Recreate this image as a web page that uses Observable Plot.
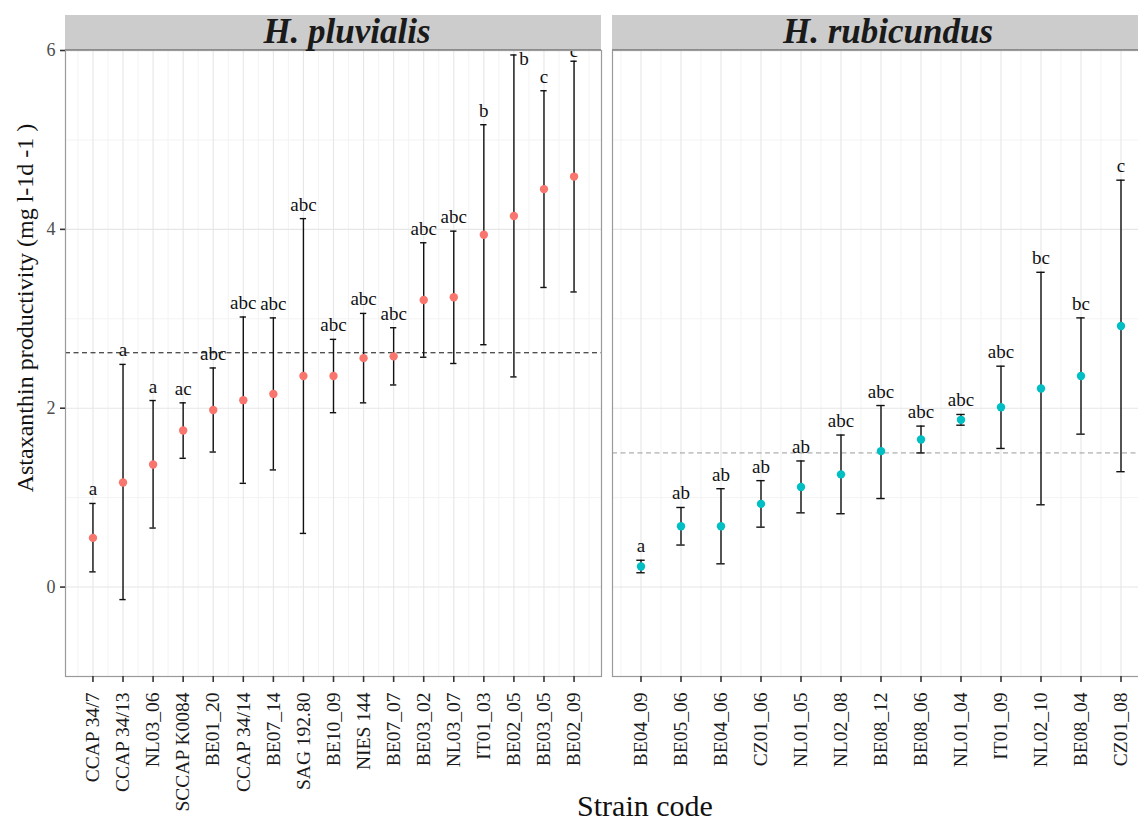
<!DOCTYPE html>
<html>
<head>
<meta charset="utf-8">
<script src="https://cdn.jsdelivr.net/npm/d3@7"></script>
<script src="https://cdn.jsdelivr.net/npm/@observablehq/plot@0.6"></script>
<style>
  body { margin: 0; background: #fff; }
  #wrap { position: relative; width: 1138px; height: 823px; overflow: hidden; background: #fff;
          font-family: "Liberation Serif", "Times New Roman", serif; }
  .panel { position: absolute; top: 0; }
  .strip { position: absolute; top: 15px; height: 35px; background: #CCCCCC; box-sizing: border-box;
           border-bottom: 1px solid #8c8c8c; }
  .strip span { position: absolute; top: 50%; transform: translate(-50%, -52%); font-weight: bold;
                font-style: italic; font-size: 35px; color: #1a1a1a; white-space: nowrap; line-height: 1; }
  .ylab { position: absolute; left: 25px; top: 308px; transform: translate(-50%, -50%) rotate(-90deg);
          font-size: 24px; white-space: nowrap; color: #111; line-height: 1; }
  .xlab { position: absolute; left: 645px; top: 806px; transform: translate(-50%, -50%);
          font-size: 30px; white-space: nowrap; color: #111; line-height: 1; }
</style>
</head>
<body>
<div id="wrap"></div>
<script>
// ---------- data ----------
const pluvialisStrains = ["CCAP 34/7", "CCAP 34/13", "NL03_06", "SCCAP K0084", "BE01_20", "CCAP 34/14",
  "BE07_14", "SAG 192.80", "BE10_09", "NIES 144", "BE07_07", "BE03_02", "NL03_07", "IT01_03",
  "BE02_05", "BE03_05", "BE02_09"];
const pluvialisMean = [0.55, 1.17, 1.37, 1.75, 1.98, 2.09, 2.16, 2.36, 2.36, 2.56, 2.58, 3.21, 3.24, 3.94, 4.15, 4.45, 4.59];
const pluvialisLow  = [0.17, -0.14, 0.66, 1.44, 1.51, 1.16, 1.31, 0.60, 1.95, 2.06, 2.26, 2.57, 2.50, 2.71, 2.35, 3.35, 3.30];
const pluvialisHigh = [0.935, 2.49, 2.086, 2.06, 2.45, 3.02, 3.01, 4.12, 2.77, 3.06, 2.90, 3.85, 3.98, 5.17, 5.95, 5.55, 5.88];
const pluvialisLetters = ["a", "a", "a", "ac", "abc", "abc", "abc", "abc", "abc", "abc", "abc", "abc", "abc", "b", "b", "c", "c"];
const pluvialisMeanLine = 2.62;

const rubicundusStrains = ["BE04_09", "BE05_06", "BE04_06", "CZ01_06", "NL01_05", "NL02_08", "BE08_12",
  "BE08_06", "NL01_04", "IT01_09", "NL02_10", "BE08_04", "CZ01_08"];
const rubicundusMean = [0.23, 0.68, 0.68, 0.93, 1.12, 1.26, 1.52, 1.65, 1.87, 2.01, 2.22, 2.36, 2.92];
const rubicundusLow  = [0.16, 0.47, 0.26, 0.67, 0.83, 0.82, 0.99, 1.50, 1.81, 1.55, 0.92, 1.71, 1.29];
const rubicundusHigh = [0.30, 0.89, 1.10, 1.19, 1.41, 1.70, 2.03, 1.80, 1.93, 2.47, 3.52, 3.01, 4.55];
const rubicundusLetters = ["a", "ab", "ab", "ab", "ab", "abc", "abc", "abc", "abc", "abc", "bc", "bc", "c"];
const rubicundusMeanLine = 1.50;

const yMajorTicks = [0, 2, 4, 6];
const yMinorTicks = [-1, 1, 3, 5];
const yDomain = [-1, 6];

const facetTitles = ["H. pluvialis", "H. rubicundus"];
const yLabel = "Astaxanthin productivity (mg l-1d -1 )";
const xLabel = "Strain code";

// ---------- drawing ----------
const FONT = "Liberation Serif, Times New Roman, serif";

function panel(o) {
  const n = o.strains.length;
  const data = o.strains.map((s, i) => ({
    i, strain: s, mean: o.mean[i], low: o.low[i], high: o.high[i], letter: o.letters[i]
  }));
  const cap = 0.105;
  const normal = data.filter(d => !(d.strain in o.labelShift));
  const shifted = data.filter(d => d.strain in o.labelShift);
  const marks = [
    Plot.gridY(yMinorTicks, {stroke: "#F3F3F3", strokeOpacity: 1, strokeWidth: 1}),
    Plot.gridX(d3.range(-1, n).map(i => i + 0.5), {stroke: "#F3F3F3", strokeOpacity: 1, strokeWidth: 1}),
    Plot.gridY(yMajorTicks, {stroke: "#E6E6E6", strokeOpacity: 1, strokeWidth: 1.1}),
    Plot.gridX(d3.range(n), {stroke: "#E6E6E6", strokeOpacity: 1, strokeWidth: 1.1}),
    Plot.ruleY([o.ref], {stroke: o.refColor, strokeWidth: 1, strokeDasharray: "5,3.5"}),
    Plot.ruleX(data, {x: "i", y1: "low", y2: "high", stroke: "#111", strokeWidth: 1.4}),
    Plot.ruleY(data, {y: "low", x1: d => d.i - cap, x2: d => d.i + cap, stroke: "#111", strokeWidth: 1.4}),
    Plot.ruleY(data, {y: "high", x1: d => d.i - cap, x2: d => d.i + cap, stroke: "#111", strokeWidth: 1.4}),
    Plot.dot(data, {x: "i", y: "mean", r: 4.2, fill: o.color, stroke: "none"}),
    Plot.text(normal, {x: "i", y: "high", text: "letter", dy: -8, lineAnchor: "bottom",
      fontSize: 19, fill: "#111", fontFamily: FONT}),
    ...shifted.map(d => Plot.text([d], {x: "i", y: "high", text: "letter",
      dx: o.labelShift[d.strain][0], dy: o.labelShift[d.strain][1], lineAnchor: "bottom",
      fontSize: 19, fill: "#111", fontFamily: FONT})),
    Plot.frame({stroke: "#9a9a9a", strokeWidth: 1.2}),
    Plot.axisX(d3.range(n), {tickFormat: i => o.strains[i], tickRotate: -90, tickSize: 6, tickPadding: 10,
      fontSize: 19.5, color: "#1a1a1a", stroke: "#333", strokeWidth: 1.6, label: null, fontFamily: FONT})
  ];
  if (o.showY) {
    marks.push(Plot.axisY(yMajorTicks, {tickFormat: d3.format("d"), tickSize: 5, tickPadding: 5, fontSize: 18,
      color: "#4D4D4D", stroke: "#333", strokeWidth: 1.6, label: null, fontFamily: FONT}));
  }
  return Plot.plot({
    width: o.width, height: 800,
    marginTop: 50, marginBottom: 124, marginLeft: o.marginLeft, marginRight: o.marginRight,
    style: {fontFamily: FONT, background: "transparent", overflow: "visible"},
    x: {domain: [-o.pad, n - 1 + o.pad], axis: null},
    y: {domain: yDomain, axis: null},
    marks
  });
}

const wrap = document.getElementById("wrap");

const left = panel({
  strains: pluvialisStrains, mean: pluvialisMean, low: pluvialisLow, high: pluvialisHigh,
  letters: pluvialisLetters, ref: pluvialisMeanLine, refColor: "#111", color: "#F8766D",
  width: 606, marginLeft: 65, marginRight: 5, pad: 0.913, showY: true,
  labelShift: {"BE02_05": [10, 10], "BE02_09": [0, -4]}
});
left.classList.add("panel");
left.style.left = "0px";
wrap.appendChild(left);

const right = panel({
  strains: rubicundusStrains, mean: rubicundusMean, low: rubicundusLow, high: rubicundusHigh,
  letters: rubicundusLetters, ref: rubicundusMeanLine, refColor: "#9a9a9a", color: "#00BFC4",
  width: 543, marginLeft: 5, marginRight: 1, pad: 0.7125, showY: false,
  labelShift: {}
});
right.classList.add("panel");
right.style.left = "607px";
wrap.appendChild(right);

// facet strips
[[65, 536, 282], [612, 540, 276]].forEach(([x, w, c], k) => {
  const s = document.createElement("div");
  s.className = "strip";
  s.style.left = x + "px";
  s.style.width = w + "px";
  const t = document.createElement("span");
  t.style.left = c + "px";
  t.textContent = facetTitles[k];
  s.appendChild(t);
  wrap.appendChild(s);
});

const yl = document.createElement("div");
yl.className = "ylab";
yl.textContent = yLabel;
wrap.appendChild(yl);

const xl = document.createElement("div");
xl.className = "xlab";
xl.textContent = xLabel;
wrap.appendChild(xl);
</script>
</body>
</html>
